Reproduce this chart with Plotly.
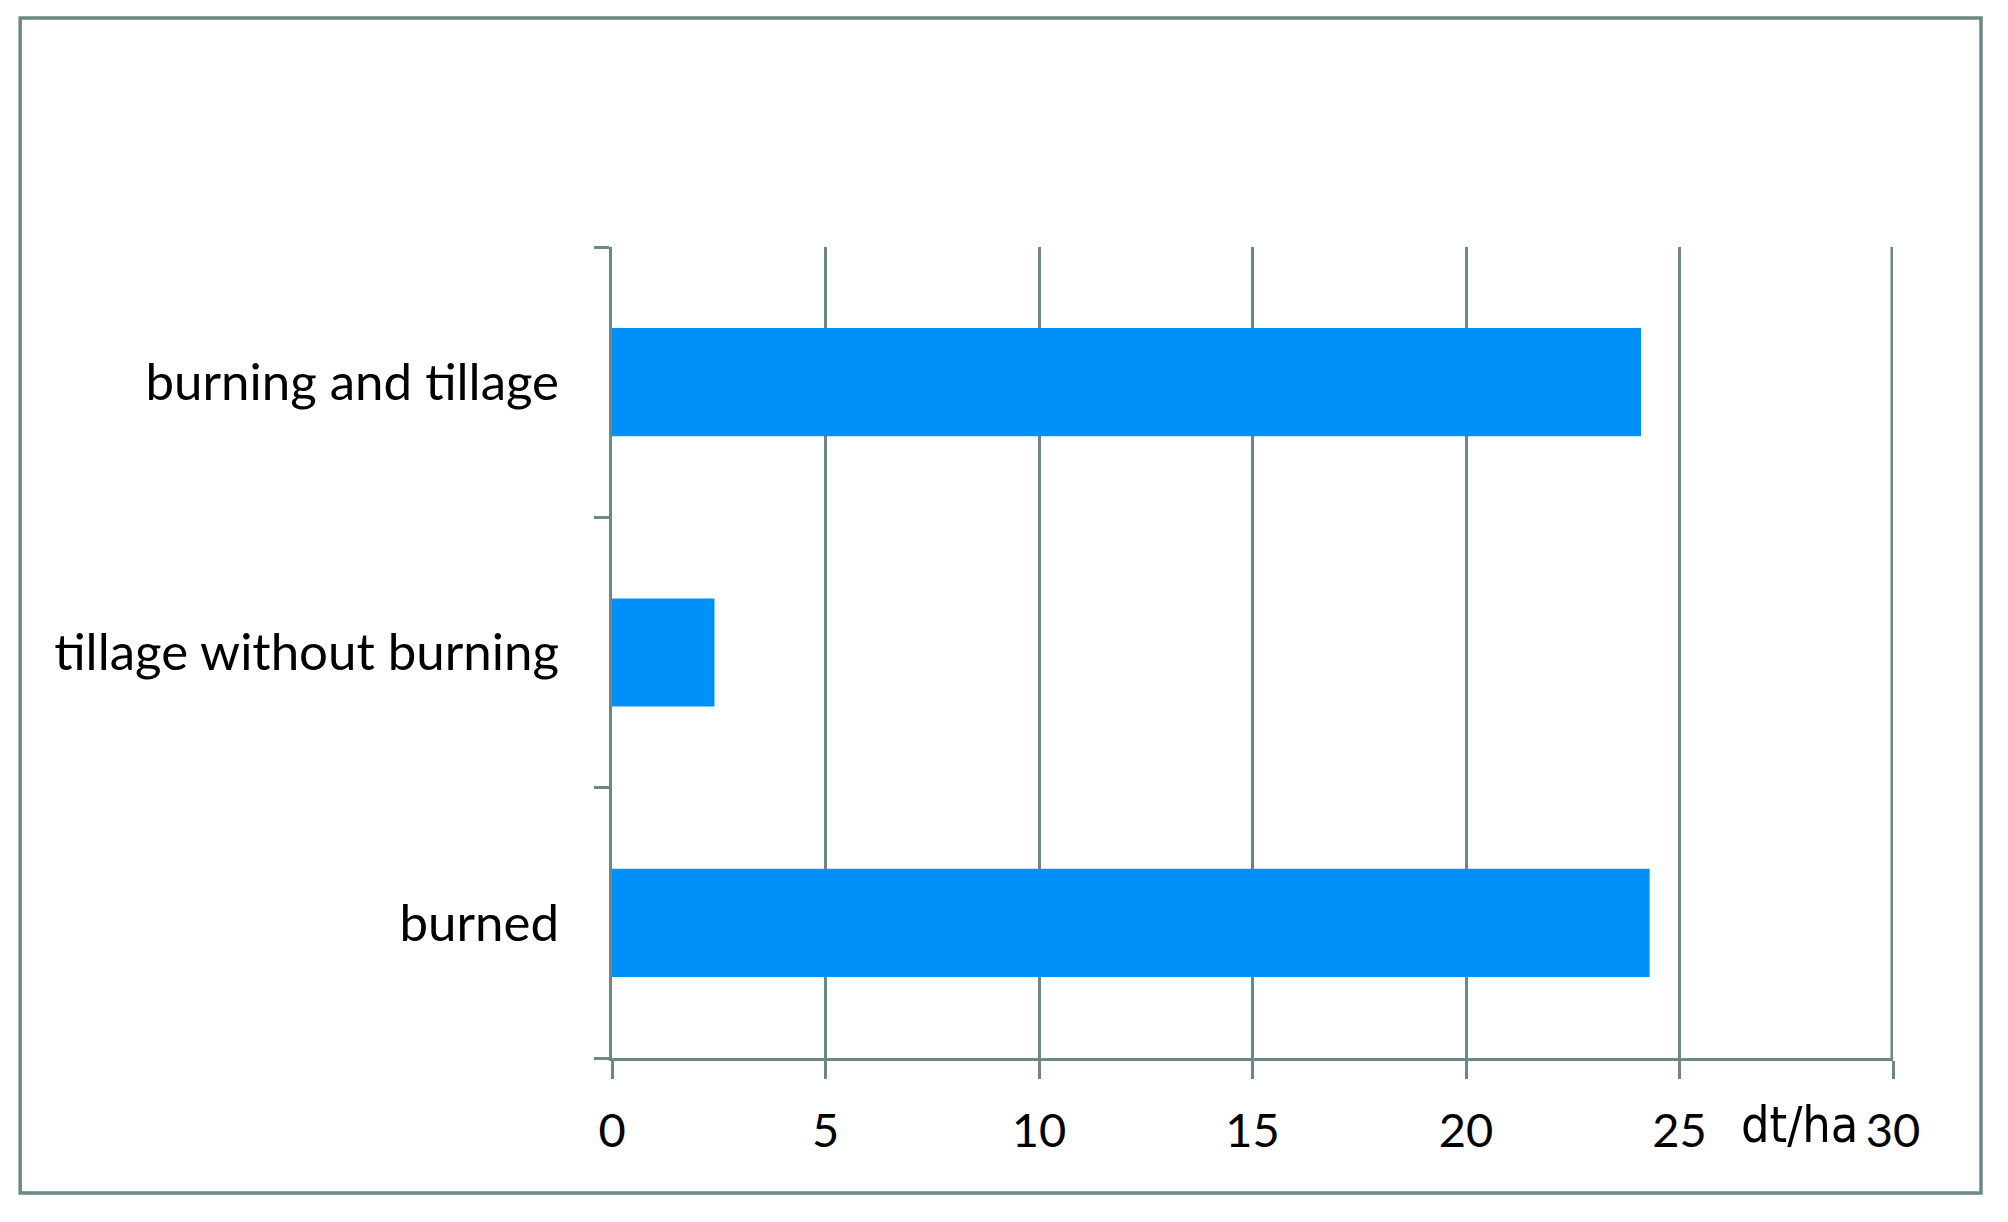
import plotly.graph_objects as go

categories = ["burned", "tillage without burning", "burning and tillage"]
values = [24.3, 2.4, 24.1]
x_ticks = [0, 5, 10, 15, 20, 25, 30]

line_col = "#6b8887"
bar_col = "#0090fa"

fig = go.Figure()
fig.add_trace(go.Bar(
    y=categories, x=values, orientation="h",
    marker=dict(color=bar_col, line=dict(width=0)),
))

fig.update_layout(
    width=2008, height=1222,
    margin=dict(l=604, r=123, t=239, b=172),
    paper_bgcolor="white", plot_bgcolor="white",
    bargap=0.6, showlegend=False,
    font=dict(family="Lato", size=44, color="black"),
)
fig.update_xaxes(
    range=[0, 30], tickvals=x_ticks,
    showgrid=True, gridcolor=line_col, gridwidth=2.5,
    showline=True, linecolor=line_col, linewidth=2.5,
    ticks="outside", ticklen=18, tickwidth=2.5, tickcolor=line_col,
    zeroline=False, ticklabelstandoff=12,
    tickfont=dict(size=47),
)
fig.update_yaxes(
    type="category", categoryorder="array", categoryarray=categories,
    showgrid=False, zeroline=False,
    showline=True, linecolor=line_col, linewidth=2.5,
    ticks="outside", ticklen=15, tickwidth=2.5, tickcolor=line_col,
    tickson="boundaries", ticklabelstandoff=40,
    tickfont=dict(size=51),
)

# plotly skips the grid line on the right edge, so draw it
# (half of it is clipped by the plot area, hence the double width)
fig.add_shape(
    type="line", xref="x", yref="paper",
    x0=x_ticks[-1], x1=x_ticks[-1], y0=0, y1=1,
    line=dict(color=line_col, width=5),
)

# unit label next to the last tick
fig.add_annotation(
    text="dt/ha", x=27.8, xref="x", y=-0.083, yref="paper",
    xanchor="center", yanchor="middle", showarrow=False,
    font=dict(family="DejaVu Sans Condensed, Liberation Sans Narrow, sans-serif",
              size=50, color="black"),
)

# frame around the whole chart
fig.add_shape(
    type="rect", xref="paper", yref="paper",
    x0=-0.462, x1=1.0687, y0=-0.1665, y1=1.2824,
    line=dict(color=line_col, width=3.5),
)

fig.write_html("out.html")
